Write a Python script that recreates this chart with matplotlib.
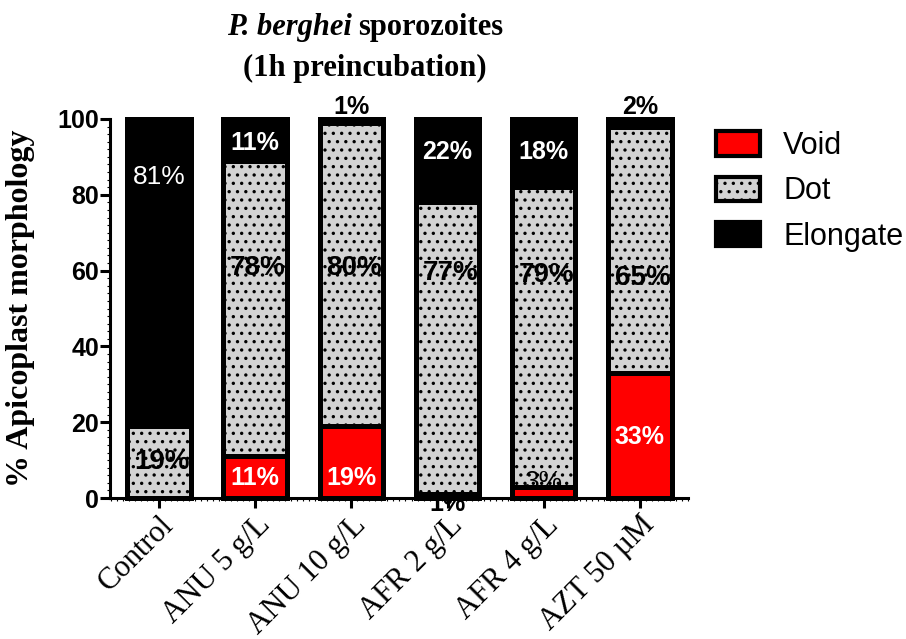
import numpy as np
import matplotlib.pyplot as plt
from matplotlib.patches import Patch
from matplotlib.ticker import MultipleLocator

groups = ['Control', 'ANU 5 g/L', 'ANU 10 g/L', 'AFR 2 g/L', 'AFR 4 g/L', 'AZT 50 µM']
void = [0, 11, 19, 1, 3, 33]
dot = [19, 78, 80, 77, 79, 65]
elongate = [81, 11, 1, 22, 18, 2]

# where GraphPad put the percentage labels (y, data units)
top_y = [84.7, 93.7, 103.2, 91.3, 91.3, 103.2]
mid_y = [9.5, 60.7, 60.7, 59.4, 58.8, 58.0]
bot_y = [None, 5.3, 5.3, -1.5, 4.2, 16.0]

plt.rcParams['hatch.linewidth'] = 1.2
sans = 'Liberation Sans'
serif = 'Liberation Serif'

fig = plt.figure(figsize=(9.06, 6.39), dpi=100)
ax = fig.add_axes([110/906, 1-498/639, (688-110)/906, (498-119)/639])

x = np.arange(len(groups))
kw = dict(width=0.66, edgecolor='black', linewidth=3.6, clip_on=False, zorder=2)
b_void = ax.bar(x, void, color='#ff0000', **kw)
b_dot = ax.bar(x, dot, bottom=void, color='#d3d3d3', hatch='..', **kw)
b_el = ax.bar(x, elongate, bottom=np.add(void, dot), color='black', **kw)

for i in x:
    # top (elongate)
    above = elongate[i] < 5
    c = 'black' if above else 'white'
    w = 'normal' if i == 0 else 'bold'
    ax.text(i, top_y[i], f'{elongate[i]}%', ha='center', va='center', color=c,
            fontsize=19 if w == 'normal' else 18, fontweight=w, family=sans, zorder=5)
    # middle (dot)
    t = ax.text(i + 0.03, mid_y[i], f'{dot[i]}%', ha='center', va='center', color='black',
                fontsize=20, fontweight='bold', family=sans, zorder=5)
    t.set_clip_path(b_dot[i])
    # bottom (void)
    if bot_y[i] is not None:
        if void[i] >= 10:
            c, w = 'white', 'bold'
        elif void[i] >= 3:
            c, w = 'black', 'normal'
        else:
            c, w = 'black', 'bold'
        ax.text(i, bot_y[i], f'{void[i]}%', ha='center', va='center', color=c,
                fontsize=19 if w == 'normal' else 18, fontweight=w, family=sans, zorder=1 if void[i] < 2 else 5)

ax.set_xlim(-0.51, 5.5)
ax.set_ylim(0, 100)
ax.set_yticks([0, 20, 40, 60, 80, 100])
ax.yaxis.set_minor_locator(MultipleLocator(2))
ax.xaxis.set_minor_locator(MultipleLocator(1/16))
ax.set_xticks(x)
ax.set_xticklabels(groups, rotation=45, ha='right', rotation_mode='anchor',
                   family=serif, fontsize=22)
for lab in ax.get_yticklabels():
    lab.set_family(sans)
    lab.set_fontweight('bold')
    lab.set_fontsize(18)
ax.tick_params(which='major', length=7, width=2.2, pad=1)
ax.tick_params(which='minor', length=2, width=0.8)
ax.tick_params(axis='x', which='major', pad=2)
for s in ['top', 'right']:
    ax.spines[s].set_visible(False)
for s in ['left', 'bottom']:
    ax.spines[s].set_linewidth(2.2)
    ax.spines[s].set_zorder(4)

ax.set_ylabel('% Apicoplast morphology', family=serif, fontweight='bold', fontsize=23)
ax.yaxis.set_label_coords(-0.13, 0.5)

handles = [Patch(facecolor='#ff0000', edgecolor='black', lw=3),
           Patch(facecolor='#d3d3d3', edgecolor='black', lw=3, hatch='..'),
           Patch(facecolor='black', edgecolor='black', lw=3)]
fig.legend(handles, ['Void', 'Dot', 'Elongate'], loc='upper left',
           bbox_to_anchor=(716/906, 1-131/639), frameon=False,
           prop=dict(family=sans, size=22), handlelength=1.45, handleheight=0.85,
           handletextpad=0.75, labelspacing=0.5, borderpad=0, borderaxespad=0)

# title, first line has an italic species name
cx = 365/906
t1 = fig.text(0, 1-28/639, 'P. berghei', family=serif, style='italic', fontweight='bold',
              fontsize=22, va='center')
t2 = fig.text(0, 1-28/639, 'sporozoites', family=serif, fontweight='bold',
              fontsize=22, va='center')
fig.text(cx, 1-68/639, '(1h preincubation)', family=serif, fontweight='bold',
         fontsize=22, va='center', ha='center')
fig.canvas.draw()
r = fig.canvas.get_renderer()
w1 = t1.get_window_extent(r).width
w2 = t2.get_window_extent(r).width
gap = 6
x0 = cx*906 - (w1 + gap + w2)/2
t1.set_x(x0/906)
t2.set_x((x0 + w1 + gap)/906)

fig.savefig('out.png', dpi=100)
